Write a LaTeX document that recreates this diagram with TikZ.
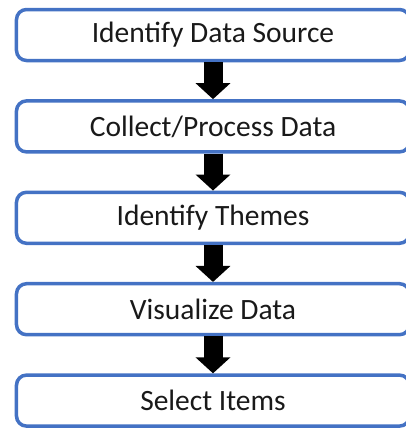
\documentclass[tikz,border=0pt]{standalone}
\usepackage{fontspec}
\setmainfont{Carlito}
\usepackage{xcolor}
\usetikzlibrary{arrows.meta}

\begin{document}
\begin{tikzpicture}[x=1bp,y=-1bp,
  stepbox/.style={draw=boxblue,line width=3.5bp,rounded corners=10bp,fill=white,
    minimum width=393bp,minimum height=51bp,inner sep=0pt,
    font=\fontsize{29.5bp}{32bp}\selectfont,text=black!90},
  fatarrow/.style={line width=19bp,-{Triangle[width=34bp,length=16bp]}}]
\definecolor{boxblue}{HTML}{4472C4}
\useasboundingbox (0,0) rectangle (406,431);
\clip (0,0) rectangle (406,431);
  \foreach \txt/\pos in {Identify Data Source/1,{Collect/Process Data}/2,Identify Themes/3,Visualize Data/4,Select Items/5}
  {  \node [stepbox] (s\pos) at (213,{35+91.4*(\pos-1)}) {\txt};}
  \foreach \a/\b in {1/2,2/3,3/4,4/5}
  {  \draw [fatarrow] (s\a.south) -- (s\b.north);}
\end{tikzpicture}
\end{document}
